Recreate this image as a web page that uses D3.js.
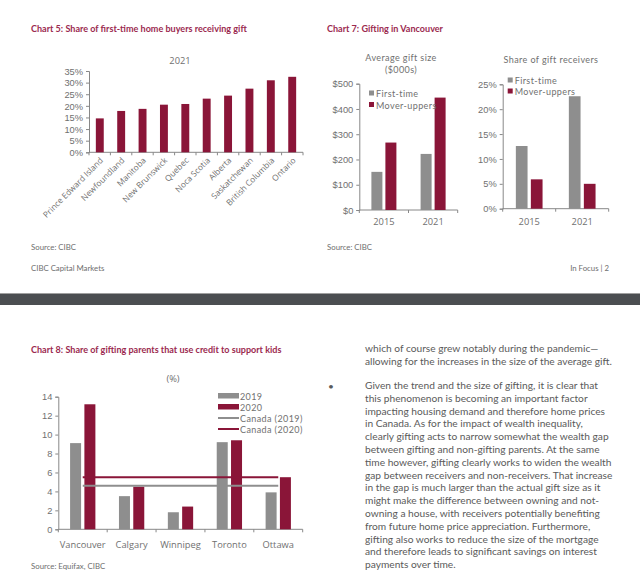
<!DOCTYPE html>
<html lang="en">
<head>
<meta charset="UTF-8">
<title>CIBC In Focus - gifting charts</title>
<script src="https://cdn.jsdelivr.net/npm/d3@7"></script>
<style>
  body { margin: 0; background: #fff; }
  svg { display: block; font-family: "Open Sans", Lato, sans-serif; }
  .title { font-family: Lato, sans-serif; font-size: 9.05px; font-weight: bold; fill: #9b2a4f; }
  .tick text, .lbl { font-size: 9.3px; fill: #707070; }
  .leg { font-family: Lato, sans-serif; font-size: 9px; letter-spacing: 0.4px; fill: #707070; }
  .rot { font-size: 8.3px; fill: #707070; }
  .note { font-family: Lato, sans-serif; font-size: 7.8px; fill: #6e6e6e; }
  .body { font-family: Lato, sans-serif; font-size: 10.2px; fill: #5a5a5a; }
</style>
</head>
<body>
<script>
// ---- data ----
var provinces = ["Prince Edward Island", "Newfoundland", "Manitoba", "New Brunswick", "Quebec",
                 "Noca Scotia", "Alberta", "Saskatchewan", "British Columbia", "Ontario"];
var giftShare2021 = [14.6, 17.8, 18.7, 20.5, 20.8, 23.1, 24.4, 27.4, 31.0, 32.5];

var years = ["2015", "2021"];
var buyerTypes = ["First-time", "Mover-uppers"];
var avgGiftFirst = [151, 222];
var avgGiftMover = [267, 445];
var shareFirst = [12.6, 22.6];
var shareMover = [5.9, 5.0];

var cities = ["Vancouver", "Calgary", "Winnipeg", "Toronto", "Ottawa"];
var credit2019 = [9.1, 3.5, 1.8, 9.2, 3.9];
var credit2020 = [13.2, 4.5, 2.4, 9.4, 5.5];
var canada2019 = 4.6;
var canada2020 = 5.5;

var bodyText1 = ["which of course grew notably during the pandemic\u2014",
                 "allowing for the increases in the size of the average gift."];
var bodyText2 = ["Given the trend and the size of gifting, it is clear that",
  "this phenomenon is becoming an important factor",
  "impacting housing demand and therefore home prices",
  "in Canada. As for the impact of wealth inequality,",
  "clearly gifting acts to narrow somewhat the wealth gap",
  "between gifting and non-gifting parents. At the same",
  "time however, gifting clearly works to widen the wealth",
  "gap between receivers and non-receivers. That increase",
  "in the gap is much larger than the actual gift size as it",
  "might make the difference between owning and not-",
  "owning a house, with receivers potentially benefiting",
  "from future home price appreciation. Furthermore,",
  "gifting also works to reduce the size of the mortgage",
  "and therefore leads to significant savings on interest",
  "payments over time."];

var red = "#8a1538", grey = "#8e8e8e", axisCol = "#888";

var svg = d3.select("body").append("svg").attr("width", 640).attr("height", 581);

// page break band
svg.append("rect").attr("x", 0).attr("y", 293).attr("width", 640).attr("height", 1).attr("fill", "#a0a0a0");
svg.append("rect").attr("x", 0).attr("y", 294).attr("width", 640).attr("height", 11).attr("fill", "#4b4e51");

function text(x, y, s, cls, anchor) {
  return svg.append("text").attr("x", x).attr("y", y).attr("class", cls)
    .attr("text-anchor", anchor || "start").text(s);
}

// draws y axis (ticks to the left) and a bottom line with ticks at band edges
function axes(x, y, yTicks, fmt) {
  var r = x.range(), y0 = y.range()[0];
  var ya = svg.append("g").attr("transform", "translate(" + r[0] + ",0)")
    .call(d3.axisLeft(y).tickValues(yTicks).tickFormat(fmt).tickSize(3).tickPadding(3));
  ya.select(".domain").attr("stroke", axisCol);
  ya.selectAll(".tick line").attr("stroke", axisCol);
  ya.selectAll(".tick text").attr("dy", "0.34em");
  var edges = x.domain().map(function(d) { return x(d); }).concat([r[1]]);
  svg.append("line").attr("x1", r[0]).attr("x2", r[1]).attr("y1", y0).attr("y2", y0).attr("stroke", axisCol);
  svg.selectAll(null).data(edges).enter().append("line")
    .attr("x1", function(d) { return d; }).attr("x2", function(d) { return d; })
    .attr("y1", y0).attr("y2", y0 + 3).attr("stroke", axisCol);
}

// ---- Chart 5 ----
text(31, 32, "Chart 5: Share of first-time home buyers receiving gift", "title");
text(180, 64, "2021", "lbl", "middle");
var x5 = d3.scaleBand().domain(provinces).range([89, 303]).paddingInner(0.63).paddingOuter(0.32);
var x5e = d3.scaleBand().domain(provinces).range([89, 303]);
var y5 = d3.scaleLinear().domain([0, 35]).range([152.3, 71]);
axes(x5e, y5, d3.range(0, 36, 5), function(d) { return d + "%"; });
svg.selectAll(null).data(giftShare2021).enter().append("rect")
  .attr("x", function(d, i) { return x5(provinces[i]); })
  .attr("width", x5.bandwidth())
  .attr("y", function(d) { return y5(d); })
  .attr("height", function(d) { return y5(0) - y5(d); })
  .attr("fill", red);
svg.selectAll(null).data(provinces).enter().append("text")
  .attr("class", "rot").attr("text-anchor", "end")
  .attr("transform", function(d) { return "translate(" + (x5e(d) + x5e.bandwidth() / 2 + 4) + ",161) rotate(-45)"; })
  .text(function(d) { return d; });
text(31, 250, "Source: CIBC", "note");
text(31, 271, "CIBC Capital Markets", "note");

// ---- Chart 7 ----
text(327, 32, "Chart 7: Gifting in Vancouver", "title");

function groupedBars(x0, y, seriesList, colors, bw, gap) {
  seriesList.forEach(function(vals, s) {
    svg.selectAll(null).data(vals).enter().append("rect")
      .attr("x", function(d, i) {
        var c = x0(x0.domain()[i]) + x0.bandwidth() / 2;
        return s === 0 ? c - gap / 2 - bw : c + gap / 2;
      })
      .attr("width", bw)
      .attr("y", function(d) { return y(d); })
      .attr("height", function(d) { return y(0) - y(d); })
      .attr("fill", colors[s]);
  });
}

function catLabels(x0, yPos) {
  svg.selectAll(null).data(x0.domain()).enter().append("text")
    .attr("class", "lbl").attr("text-anchor", "middle")
    .attr("x", function(d) { return x0(d) + x0.bandwidth() / 2; })
    .attr("y", yPos).text(function(d) { return d; });
}

function squareLegend(x, y, labels, colors, step) {
  labels.forEach(function(l, i) {
    svg.append("rect").attr("x", x).attr("y", y + i * step - 6.5).attr("width", 5).attr("height", 5).attr("fill", colors[i]);
    text(x + 7, y + i * step, l, "leg");
  });
}

// left: average gift size
text(401, 61, "Average gift size", "leg", "middle");
text(401, 73, "($000s)", "leg", "middle");
var x7a = d3.scaleBand().domain(years).range([359.3, 457.7]);
var y7a = d3.scaleLinear().domain([0, 500]).range([210, 83.7]);
axes(x7a, y7a, d3.range(0, 501, 100), function(d) { return "$" + d; });
groupedBars(x7a, y7a, [avgGiftFirst, avgGiftMover], [grey, red], 11, 3);
catLabels(x7a, 225);
squareLegend(369, 97, buyerTypes, [grey, red], 11.5);

// right: share of gift receivers
text(551, 63, "Share of gift receivers", "leg", "middle");
var x7b = d3.scaleBand().domain(years).range([502.7, 608.7]);
var y7b = d3.scaleLinear().domain([0, 25]).range([208.7, 84.3]);
axes(x7b, y7b, d3.range(0, 26, 5), function(d) { return d + "%"; });
groupedBars(x7b, y7b, [shareFirst, shareMover], [grey, red], 11.7, 3.3);
catLabels(x7b, 225);
squareLegend(507.7, 84, buyerTypes, [grey, red], 11);

text(327, 250, "Source: CIBC", "note");
text(609, 271, "In Focus | 2", "note", "end");

// ---- Chart 8 ----
text(31, 353, "Chart 8: Share of gifting parents that use credit to support kids", "title");
text(173, 382, "(%)", "lbl", "middle");
var x8 = d3.scaleBand().domain(cities).range([58.3, 302.7]);
var y8 = d3.scaleLinear().domain([0, 14]).range([529.3, 396.7]);
axes(x8, y8, d3.range(0, 15, 2), d3.format("d"));
groupedBars(x8, y8, [credit2019, credit2020], [grey, red], 11, 3.3);
catLabels(x8, 548);

var mid0 = x8(cities[0]) + x8.bandwidth() / 2;
var mid1 = x8(cities[cities.length - 1]) + x8.bandwidth() / 2;
[[canada2019, grey], [canada2020, red]].forEach(function(c) {
  svg.append("line").attr("x1", mid0).attr("x2", mid1)
    .attr("y1", y8(c[0])).attr("y2", y8(c[0]))
    .attr("stroke", c[1]).attr("stroke-width", 2);
});

var leg8 = ["2019", "2020", "Canada (2019)", "Canada (2020)"];
leg8.forEach(function(l, i) {
  var yy = 399.5 + i * 11;
  if (i < 2) {
    svg.append("rect").attr("x", 218).attr("y", yy - 6.5).attr("width", 21).attr("height", 5.5)
      .attr("fill", i === 0 ? grey : red);
  } else {
    svg.append("line").attr("x1", 218).attr("x2", 239).attr("y1", yy - 3.5).attr("y2", yy - 3.5)
      .attr("stroke", i === 2 ? grey : red).attr("stroke-width", 2);
  }
  text(240, yy, l, "leg");
});
text(31, 569, "Source: Equifax, CIBC", "note");

// ---- body text ----
bodyText1.forEach(function(l, i) { text(365, 352 + i * 12.8, l, "body"); });
text(328, 390, "\u2022", "body");
bodyText2.forEach(function(l, i) { text(365, 389 + i * 12.8, l, "body"); });
</script>
</body>
</html>
